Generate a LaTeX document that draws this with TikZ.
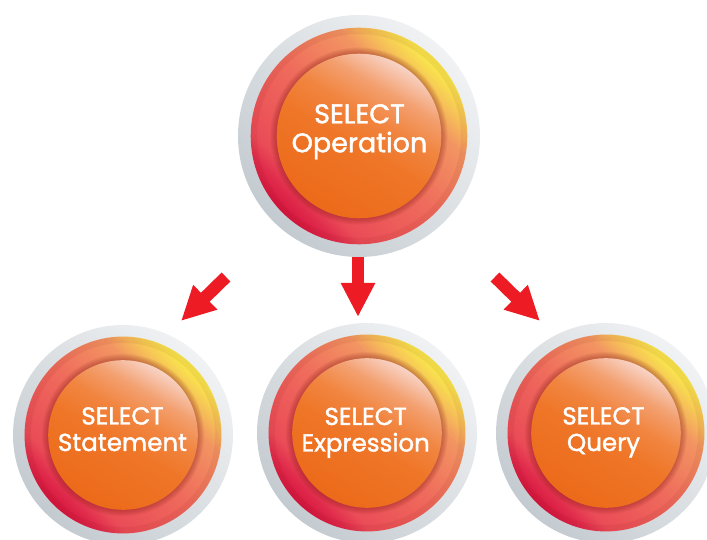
\documentclass[tikz,border=0pt]{standalone}
\usepackage{fontspec}
\setmainfont{Poppins}
\newfontfamily\labelfont{Poppins}[FakeBold=1.6]
\usetikzlibrary{arrows.meta}

% palette
\definecolor{grayLo}{HTML}{C4CBD0}
\definecolor{grayHi}{HTML}{F0F2F4}
\definecolor{ringA}{HTML}{D6163F}
\definecolor{ringB}{HTML}{E02C4C}
\definecolor{ringC}{HTML}{EA4C57}
\definecolor{ringD}{HTML}{EF6C5C}
\definecolor{ringE}{HTML}{F29462}
\definecolor{ringF}{HTML}{F6C058}
\definecolor{ringG}{HTML}{F9E84C}
\definecolor{coreA}{HTML}{EC6A1A}
\definecolor{coreB}{HTML}{EF7628}
\definecolor{coreC}{HTML}{F18540}
\definecolor{coreD}{HTML}{F3A070}
\definecolor{coreE}{HTML}{F8D2C4}
\definecolor{shadowtone}{HTML}{7A1410}
\definecolor{arrowred}{HTML}{ED1C24}

% gradients, running from bottom (0bp side) to top
\pgfdeclareverticalshading{grayring}{100bp}{color(0bp)=(grayLo); color(25bp)=(grayLo); color(75bp)=(grayHi); color(100bp)=(grayHi)}
\pgfdeclareverticalshading{redring}{100bp}{color(0bp)=(ringA); color(25bp)=(ringA); color(29bp)=(ringB); color(33bp)=(ringC); color(50bp)=(ringD); color(64bp)=(ringE); color(69bp)=(ringF); color(74bp)=(ringG); color(100bp)=(ringG)}
\pgfdeclareverticalshading{corefill}{100bp}{color(0bp)=(coreA); color(25bp)=(coreA); color(47bp)=(coreB); color(57bp)=(coreC); color(66bp)=(coreD); color(75bp)=(coreE); color(100bp)=(coreE)}

\tikzset{
  bubbletext/.style={text=white, align=center, inner sep=0pt, anchor=north},
  redarrow/.style={draw=arrowred, line width=12.5pt, -{Triangle[length=34pt,width=32pt]}},
}

% a glossy button: #1 node name, #2 centre, #3 outer radius
\newcommand\glossybutton[3]{%
  \node[circle, inner sep=0pt, minimum size=2*#3] (#1) at (#2) {};
  \shade[shading=grayring, shading angle=-45] (#1.center) circle (#3);
  \shade[shading=redring, shading angle=-45] (#1.center) circle (0.895*#3);
  \foreach \k in {0,...,6}
    \draw[shadowtone, opacity=0.05, line width=1.1] (#1.center) circle (0.895*#3-0.55-\k*0.9);
  \foreach \k in {1,...,7}
    \fill[shadowtone, opacity=0.055] (#1.center) circle (0.68*#3+\k*0.9);
  \shade[shading=corefill, shading angle=-30] (#1.center) circle (0.68*#3);
}

\begin{document}
\begin{tikzpicture}[x=1pt,y=1pt]
  \useasboundingbox (0,0) rectangle (707,540);
  \clip (0,0) rectangle (707,540);

  % buttons
  \glossybutton{operation}{359,404}{121}
  \glossybutton{statement}{123,105}{110}
  \glossybutton{expression}{367,107}{110}
  \glossybutton{query}{606,107}{110}

  % labels
  \node[bubbletext, font=\labelfont\fontsize{27}{29}\selectfont] (operation-label) at (359.5,436) {SELECT\\Operation};
  \node[bubbletext, font=\labelfont\fontsize{24.5}{26.5}\selectfont] (statement-label) at (122.5,133) {SELECT\\Statement};
  \node[bubbletext, font=\labelfont\fontsize{24.5}{26.5}\selectfont] (expression-label) at (365.7,132.5) {SELECT\\Expression};
  \node[bubbletext, font=\labelfont\fontsize{24.5}{26.5}\selectfont] (query-label) at (603.5,133) {SELECT\\Query};

  % arrow ends
  \coordinate (left-tail) at (226,263);
  \coordinate (left-tip) at (181,219);
  \coordinate (mid-tail) at (358,283);
  \coordinate (mid-tip) at (358,223);
  \coordinate (right-tail) at (495,263);
  \coordinate (right-tip) at (540,219);

  \draw[redarrow] (left-tail) -- (left-tip);
  \draw[redarrow] (mid-tail) -- (mid-tip);
  \draw[redarrow] (right-tail) -- (right-tip);
\end{tikzpicture}
\end{document}
